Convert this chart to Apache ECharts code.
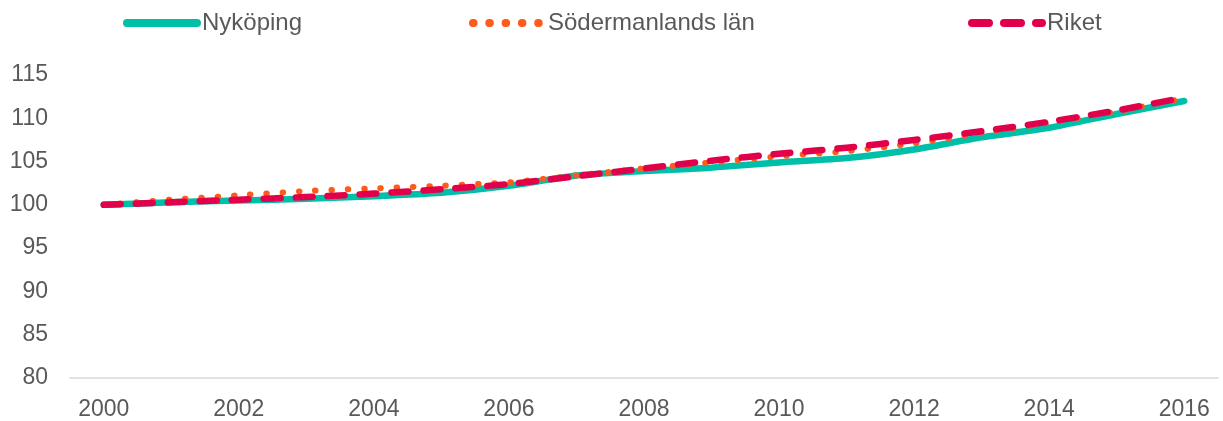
<!DOCTYPE html>
<html>
<head>
<meta charset="utf-8">
<script src="https://cdn.jsdelivr.net/npm/echarts@6/dist/echarts.min.js"></script>
<style>html,body{margin:0;padding:0;background:#fff}#c{width:1223px;height:421px}</style>
</head>
<body>
<div id="c"></div>
<script>
const years = ['2000','2001','2002','2003','2004','2005','2006','2007','2008','2009','2010','2011','2012','2013','2014','2015','2016'];
const nykoping = [100, 100.3, 100.5, 100.7, 101.0, 101.4, 102.2, 103.4, 103.9, 104.3, 104.9, 105.4, 106.4, 107.8, 108.9, 110.5, 112.0];
const sodermanland = [100, 100.6, 101.1, 101.6, 101.9, 102.2, 102.6, 103.4, 104.2, 104.9, 105.6, 106.2, 107.1, 108.3, 109.5, 110.8, 112.3];
const riket = [100, 100.3, 100.6, 100.9, 101.3, 101.8, 102.4, 103.3, 104.2, 105.1, 105.9, 106.6, 107.5, 108.5, 109.6, 110.9, 112.4];
const yTicks = [80, 85, 90, 95, 100, 105, 110, 115];

const font = 'Liberation Sans, Arial, sans-serif';
const txt = '#595959';
const chart = echarts.init(document.getElementById('c'));
const legendBase = {
  top: 11, itemWidth: 70, itemHeight: 20, padding: 0,
  textStyle: {fontFamily: font, fontSize: 24, color: txt},
  itemStyle: {opacity: 0},
  lineStyle: {width: 8, cap: 'round'}
};
chart.setOption({
  animation: false,
  legend: [
    Object.assign({left: 123, data: ['Nyköping']}, legendBase),
    Object.assign({left: 469, data: ['Södermanlands län']}, legendBase),
    Object.assign({left: 968, data: ['Riket']}, legendBase)
  ],
  grid: {left: 70, right: 5, top: 75, bottom: 43, containLabel: false},
  xAxis: {
    type: 'category', data: years, boundaryGap: true,
    axisLine: {lineStyle: {color: '#d9d9d9', width: 1.5}},
    axisTick: {show: false},
    axisLabel: {interval: 1, fontFamily: font, fontSize: 23, color: txt, margin: 20}
  },
  yAxis: {
    type: 'value', min: yTicks[0], max: yTicks[yTicks.length-1], interval: 5,
    splitLine: {show: false}, axisLine: {show: false}, axisTick: {show: false},
    axisLabel: {fontFamily: font, fontSize: 23, color: txt, margin: 22}
  },
  series: [
    {name: 'Nyköping', type: 'line', data: nykoping, symbol: 'none', smooth: 0.2,
     itemStyle: {color: '#00BFA8'},
     lineStyle: {color: '#00BFA8', width: 6.5, cap: 'round', join: 'round'}},
    {name: 'Södermanlands län', type: 'line', data: sodermanland, symbol: 'none', smooth: 0.2,
     itemStyle: {color: '#FF5A1A'},
     lineStyle: {color: '#FF5A1A', width: 6, type: [0.5, 15.8], cap: 'round', join: 'round'}},
    {name: 'Riket', type: 'line', data: riket, symbol: 'none', smooth: 0.2,
     itemStyle: {color: '#E2004A'},
     lineStyle: {color: '#E2004A', width: 6.5, type: [17, 15], cap: 'round', join: 'round'}}
  ]
});
</script>
</body>
</html>
